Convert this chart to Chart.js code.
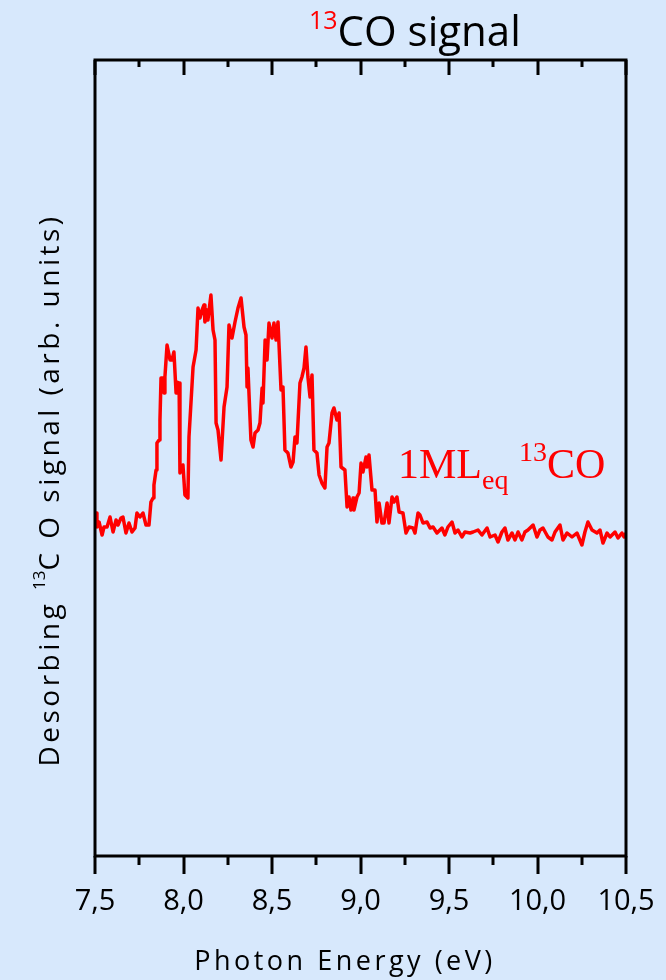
<!DOCTYPE html>
<html>
<head>
<meta charset="utf-8">
<script src="https://cdn.jsdelivr.net/npm/chart.js@4.4.1/dist/chart.umd.min.js"></script>
<style>
  html, body { margin: 0; padding: 0; background: #d7e8fc; }
  #wrap { width: 666px; height: 980px; }
</style>
</head>
<body>
<div id="wrap"><canvas id="coChart" width="666" height="980"></canvas></div>
<script>
// photon energy (eV) and desorbing 13CO signal (arb. units)
const energy = [7.500,7.506,7.511,7.523,7.540,7.551,7.568,7.585,7.602,7.619,
    7.630,7.647,7.658,7.675,7.692,7.709,7.726,7.737,7.754,7.771,
    7.788,7.805,7.816,7.828,7.833,7.845,7.850,7.862,7.867,7.873,
    7.884,7.890,7.895,7.907,7.924,7.935,7.946,7.958,7.963,7.975,
    7.980,7.997,8.008,8.025,8.031,8.054,8.071,8.082,8.093,8.105,
    8.116,8.121,8.133,8.138,8.155,8.167,8.178,8.184,8.195,8.212,
    8.229,8.246,8.257,8.274,8.291,8.308,8.325,8.342,8.353,8.359,
    8.364,8.381,8.393,8.404,8.421,8.432,8.444,8.449,8.461,8.472,
    8.483,8.500,8.511,8.523,8.534,8.551,8.562,8.573,8.590,8.607,
    8.619,8.630,8.641,8.658,8.669,8.681,8.692,8.703,8.715,8.726,
    8.737,8.754,8.766,8.782,8.799,8.811,8.822,8.839,8.850,8.867,
    8.879,8.890,8.912,8.924,8.935,8.946,8.958,8.963,8.980,8.992,
    9.003,9.014,9.031,9.037,9.048,9.065,9.082,9.093,9.105,9.121,
    9.133,9.150,9.161,9.178,9.189,9.206,9.218,9.240,9.257,9.274,
    9.297,9.308,9.325,9.336,9.353,9.376,9.393,9.410,9.432,9.460,
    9.477,9.494,9.517,9.534,9.551,9.573,9.590,9.619,9.636,9.664,
    9.686,9.715,9.732,9.760,9.777,9.799,9.816,9.833,9.856,9.873,
    9.890,9.912,9.929,9.946,9.975,9.997,10.014,10.031,10.059,10.082,
    10.099,10.127,10.144,10.167,10.195,10.223,10.251,10.268,10.285,10.308,
    10.336,10.353,10.370,10.393,10.410,10.438,10.455,10.477,10.489,10.500];

const signal = [338,343,329,334,321,329,329,339,324,336,
    331,338,339,323,333,324,328,343,339,343,
    331,331,354,358,371,386,413,416,436,478,
    478,463,479,511,496,496,504,463,474,473,
    383,391,361,358,419,489,506,548,538,546,
    551,534,546,536,561,526,516,433,426,396,
    449,469,531,518,534,548,558,529,521,469,
    488,416,409,423,426,433,468,453,516,496,
    533,518,533,516,534,466,469,406,403,389,
    394,419,413,473,479,488,509,479,459,481,
    406,403,381,373,368,409,413,443,448,436,
    443,389,386,349,359,346,358,346,359,363,
    393,384,399,389,401,366,366,334,353,333,
    333,353,333,359,354,359,344,343,323,329,
    328,323,343,341,333,334,328,329,323,328,
    321,329,334,323,326,319,324,323,324,326,
    321,328,319,321,314,324,328,316,323,316,
    324,316,324,326,331,319,326,328,319,316,
    324,331,316,323,319,323,311,324,334,326,
    323,326,313,323,319,324,318,323,319,323];

const xMin = 7.5, xMax = 10.5;
const majorStep = 0.5, minorStep = 0.25;
const yMin = 0, yMax = 796;

const bgColor = '#d7e8fc';
const uiFont = '"Open Sans", "DejaVu Sans", sans-serif';
const serifFont = '"Liberation Serif", "DejaVu Serif", serif';

// draws text pieces one after another, small ones raised or lowered
function drawRuns(ctx, runs, x, y) {
    let cx = x;
    runs.forEach(r => {
        ctx.font = r.font;
        ctx.fillStyle = r.color;
        ctx.letterSpacing = r.spacing || '0px';
        ctx.fillText(r.text, cx, y + (r.dy || 0));
        cx += ctx.measureText(r.text).width;
    });
    ctx.letterSpacing = '0px';
}

function runsWidth(ctx, runs) {
    let w = 0;
    runs.forEach(r => {
        ctx.font = r.font;
        ctx.letterSpacing = r.spacing || '0px';
        w += ctx.measureText(r.text).width;
    });
    ctx.letterSpacing = '0px';
    return w;
}

const framePlugin = {
    id: 'frame',
    beforeDraw(chart) {
        const ctx = chart.ctx;
        ctx.save();
        ctx.fillStyle = bgColor;
        ctx.fillRect(0, 0, chart.width, chart.height);
        ctx.restore();
    },
    afterDraw(chart) {
        const ctx = chart.ctx;
        const area = chart.chartArea;
        const xs = chart.scales.x;
        ctx.save();

        // box
        ctx.strokeStyle = '#000';
        ctx.lineWidth = 3;
        ctx.strokeRect(area.left, area.top, area.right - area.left, area.bottom - area.top);

        // ticks: outward on the bottom, inward on the top
        for (let v = xMin; v <= xMax + 1e-9; v += minorStep) {
            const px = Math.round(xs.getPixelForValue(v));
            const major = Math.abs(v / majorStep - Math.round(v / majorStep)) < 1e-6;
            ctx.beginPath();
            ctx.moveTo(px, area.bottom);
            ctx.lineTo(px, area.bottom + (major ? 18 : 9));
            ctx.moveTo(px, area.top);
            ctx.lineTo(px, area.top + (major ? 15 : 7));
            ctx.stroke();
        }

        // title
        ctx.textBaseline = 'alphabetic';
        ctx.textAlign = 'left';
        drawRuns(ctx, [
            { text: '13', font: '25px ' + uiFont, color: '#ff0000', dy: -17 },
            { text: 'CO signal', font: '42px ' + uiFont, color: '#000' }
        ], 309, 46);

        // x axis title
        const xt = [{ text: 'Photon Energy (eV)', font: '27px ' + uiFont, color: '#000', spacing: '3.5px' }];
        drawRuns(ctx, xt, 345 - runsWidth(ctx, xt) / 2, 970);

        // y axis title
        const yt = [
            { text: 'Desorbing ', font: '28px ' + uiFont, color: '#000', spacing: '3.5px' },
            { text: '13', font: '17px ' + uiFont, color: '#000', dy: -14 },
            { text: 'C O signal (arb. units)', font: '28px ' + uiFont, color: '#000', spacing: '3.5px' }
        ];
        ctx.save();
        ctx.translate(59, 490);
        ctx.rotate(-Math.PI / 2);
        drawRuns(ctx, yt, -runsWidth(ctx, yt) / 2, 0);
        ctx.restore();

        // sample label
        drawRuns(ctx, [
            { text: '1ML', font: '42px ' + serifFont, color: '#ff0000' },
            { text: 'eq', font: '28px ' + serifFont, color: '#ff0000', dy: 11 },
            { text: ' ', font: '42px ' + serifFont, color: '#ff0000' },
            { text: '13', font: '28px ' + serifFont, color: '#ff0000', dy: -17 },
            { text: 'CO', font: '42px ' + serifFont, color: '#ff0000' }
        ], 398, 478);

        ctx.restore();
    }
};

const ctx = document.getElementById('coChart').getContext('2d');
new Chart(ctx, {
    type: 'line',
    data: {
        datasets: [{
            label: '1MLeq 13CO',
            data: energy.map((e, i) => ({ x: e, y: signal[i] })),
            borderColor: '#ff0000',
            borderWidth: 3.5,
            borderJoinStyle: 'round',
            pointRadius: 0,
            tension: 0,
            fill: false
        }]
    },
    options: {
        responsive: false,
        animation: false,
        layout: { padding: { left: 95, right: 40, top: 60, bottom: 0 } },
        plugins: {
            legend: { display: false },
            tooltip: { enabled: false }
        },
        scales: {
            x: {
                type: 'linear',
                min: xMin,
                max: xMax,
                grid: { display: false, drawTicks: false },
                border: { display: false },
                ticks: {
                    stepSize: majorStep,
                    color: '#000',
                    padding: 28,
                    maxRotation: 0,
                    font: { family: uiFont, size: 29 },
                    callback: function(v) {
                        return v.toFixed(1).replace('.', ',');
                    }
                },
                afterFit: function(scale) {
                    scale.height = 124;
                    scale.paddingLeft = 0;
                    scale.paddingRight = 0;
                }
            },
            y: {
                display: false,
                min: yMin,
                max: yMax
            }
        }
    },
    plugins: [framePlugin]
});
</script>
</body>
</html>
